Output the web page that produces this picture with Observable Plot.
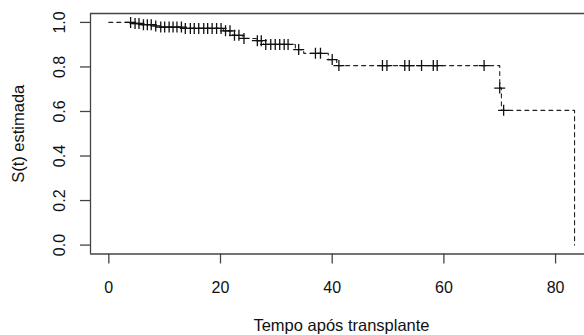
<!DOCTYPE html>
<html>
<head>
<meta charset="utf-8">
<script src="https://cdn.jsdelivr.net/npm/d3@7"></script>
<script src="https://cdn.jsdelivr.net/npm/@observablehq/plot@0.6"></script>
<style>
  html, body { margin: 0; padding: 0; background: #fff; overflow: hidden; }
  #chart svg { display: block; }
</style>
</head>
<body>
<div id="chart"></div>
<script>
// Kaplan–Meier step curve: event times and estimated survival after each event
const eventTimes = [0, 4.3, 5.8, 7.9, 9.0, 13.3, 20.5, 22.2, 24.0, 26.4, 27.7, 33.4, 34.9, 39.3, 40.8, 70.0, 70.3, 83.4];
const survival   = [1.0, 0.995, 0.990, 0.984, 0.979, 0.973, 0.962, 0.942, 0.928, 0.918, 0.901, 0.878, 0.861, 0.833, 0.806, 0.705, 0.605, 0.0];

// censored observation times (marked with "+")
const censorTimes = [3.9, 4.7, 5.4, 6.2, 6.9, 7.6, 8.4, 9.3, 10.0, 10.8, 11.5, 12.2, 13.0, 13.7, 14.6, 15.3, 16.1, 17.0, 17.7, 18.5, 19.3, 20.1, 20.9, 21.7, 22.5, 23.3, 24.2, 26.6, 27.3, 28.1, 29.0, 29.8, 30.6, 31.4, 32.1, 34.0, 37.0, 37.9, 40.0, 41.2, 49.0, 49.8, 53.0, 53.8, 56.0, 58.1, 58.8, 67.2, 70.0, 70.7];

const xTicks = [0, 20, 40, 60, 80];
const yTicks = [0.0, 0.2, 0.4, 0.6, 0.8, 1.0];
const xLabel = "Tempo após transplante";
const yLabel = "S(t) estimada";

const xDomain = [-3.28, 85.18];
const yDomain = [-0.04, 1.04];

const curve = eventTimes.map((t, i) => ({t, s: survival[i]}));
const sAt = (t) => {
  let s = survival[0];
  for (let i = 0; i < eventTimes.length; i++) if (eventTimes[i] <= t) s = survival[i];
  return s;
};
const censored = censorTimes.map(t => ({t, s: sAt(t)}));

const plusSymbol = {
  draw(ctx, size) {
    const h = Math.sqrt(size / Math.PI);
    ctx.moveTo(-h, 0); ctx.lineTo(h, 0);
    ctx.moveTo(0, -h); ctx.lineTo(0, h);
  }
};

const font = "'Liberation Sans', Arial, Helvetica, sans-serif";

const chart = Plot.plot({
  width: 584,
  height: 335,
  marginLeft: 90,
  marginRight: 0,
  marginTop: 13,
  marginBottom: 81.5,
  style: {fontFamily: font, fontSize: "16px", color: "#000", background: "#fff"},
  x: {domain: xDomain},
  y: {domain: yDomain},
  marks: [
    Plot.ruleY([yDomain[0], yDomain[1]], {stroke: "#444", strokeWidth: 1.3}),
    Plot.ruleX([xDomain[0]], {stroke: "#444", strokeWidth: 1.3}),
    Plot.axisX(xTicks, {tickSize: 10, tickPadding: 17.5, stroke: "#444", strokeWidth: 1.3, fontSize: 16, fill: "#111", tickFormat: d => String(d), label: null}),
    Plot.axisY(yTicks, {tickSize: 10, stroke: "#444", strokeWidth: 1.3, tickFormat: () => "", label: null}),
    Plot.text(yTicks, {x: xDomain[0], y: d => d, text: d => d.toFixed(1), rotate: -90, dx: -30.3, textAnchor: "middle", lineAnchor: "middle", fontSize: 16, fill: "#111"}),
    Plot.line(curve, {x: "t", y: "s", curve: "step-after", stroke: "#222", strokeWidth: 1.1, strokeDasharray: "4,4"}),
    Plot.dot(censored, {x: "t", y: "s", symbol: plusSymbol, r: 5.5, stroke: "#111", strokeWidth: 1.3, fill: "none"}),
    Plot.text([yLabel], {frameAnchor: "left", dx: -72, rotate: -90, textAnchor: "middle", lineAnchor: "middle", fontSize: 16.5, fill: "#111"}),
    Plot.text([xLabel], {frameAnchor: "bottom", dx: 4, dy: 72, textAnchor: "middle", lineAnchor: "middle", fontSize: 16.5, fill: "#111"})
  ]
});
document.getElementById("chart").appendChild(chart);
</script>
</body>
</html>
